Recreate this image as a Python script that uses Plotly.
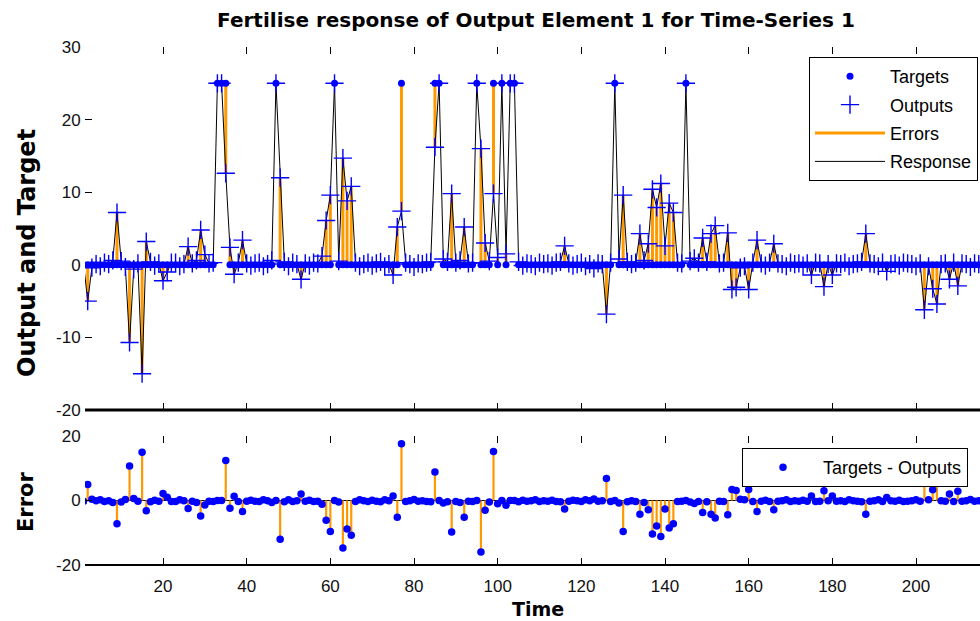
import plotly.graph_objects as go

# ---------------- data ----------------
TIME = list(range(1, 216))

OUTPUTS = [
    0.2, -5.0, -0.4, 0.1, -0.2, 0.3, 0.1, 0.6, 7.2, 0.5,
    -0.3, -10.7, -0.6, 0.2, -15.0, 3.2, 0.4, -0.1, 0.2, -2.2,
    -1.0, 0.3, 0.3, -0.2, 0.1, 2.5, 0.2, 0.6, 4.8, 1.4,
    0.2, 0.3, 25.0, 25.0, 12.6, 2.4, -1.3, 0.3, 3.4, 0.2,
    -0.1, 0.2, 0.3, -0.2, 0.1, 0.6, 25.0, 12.0, 0.4, -0.2,
    0.3, 0.1, -2.0, 0.2, -0.1, 0.3, 0.2, 1.2, 6.1, 9.6,
    25.0, 0.5, 14.7, 8.8, 10.8, 0.3, -0.2, 0.1, 0.3, -0.1,
    0.2, 0.4, -0.2, 0.1, -1.4, 5.2, 7.4, 0.3, 0.1, -0.3,
    0.2, 0.1, 0.3, 0.4, 16.2, 25.0, 0.8, 0.4, 9.8, 0.3,
    0.6, 5.2, 0.2, 0.3, 25.0, 16.0, 3.0, 0.5, 9.8, 1.0,
    25.0, 1.5, 25.0, 25.0, 0.4, -0.1, 0.2, 0.1, -0.2, 0.3,
    0.1, 0.2, -0.1, 0.3, 0.4, 2.6, 0.2, -0.1, 0.1, 0.3,
    -0.2, 0.1, -0.5, 0.2, 0.1, -6.8, 0.3, 25.0, 0.8, 9.6,
    0.4, 0.1, 0.3, 4.3, 0.6, 2.9, 10.4, 7.9, 11.2, 2.6,
    8.5, 7.2, 0.3, 0.2, 25.0, 0.5, 0.9, 0.3, 3.7, 0.4,
    4.3, 5.4, 0.2, 0.3, 4.4, -3.4, -3.1, -0.4, -0.2, -3.4,
    0.3, 3.4, 0.2, -0.1, 0.3, 2.9, 0.2, 0.1, -0.2, 0.3,
    0.1, 0.2, -0.1, 0.2, -1.4, 0.3, 0.2, -3.0, 0.1, -1.4,
    0.2, 0.1, 0.3, -0.2, 0.1, 0.2, 0.4, 4.3, 0.2, 0.1,
    -0.2, 0.3, -0.9, 0.1, 0.2, -0.1, 0.3, 0.2, 0.1, -0.2,
    0.2, -6.2, -0.2, -3.3, -5.4, 0.1, 0.2, -2.0, 0.3, -2.9,
    0.2, 0.1, -0.3, 0.2, 0.1,
]

TARGET_PEAK_TIMES = [33, 34, 35, 47, 61, 77, 85, 86, 95, 99, 101, 103, 104, 128, 145]
TARGET_PEAK_VALUE = 25.0

X_TICKS = [20, 40, 60, 80, 100, 120, 140, 160, 180, 200]
Y_TICKS_TOP = [-20, -10, 0, 10, 20, 30]
Y_TICKLABELS_TOP = ["-20", "-10", "0", "10", "20", "30"]
Y_TICKS_ERR = [-20, 0, 20]
Y_TICKLABELS_ERR = ["-20", "0", "20"]

TITLE = "Fertilise response of Output Element 1 for Time-Series 1"

# ------------- derived series -------------
targets = [TARGET_PEAK_VALUE if t in TARGET_PEAK_TIMES else 0.0 for t in TIME]
errors = [tg - o for tg, o in zip(targets, OUTPUTS)]

err_x, err_y = [], []
for t, tg, o in zip(TIME, targets, OUTPUTS):
    err_x += [t, t, None]
    err_y += [tg, o, None]

stem_x, stem_y = [], []
for t, e in zip(TIME, errors):
    stem_x += [t, t, None]
    stem_y += [0, e, None]

BLUE = "#0000FF"
ORANGE = "#FF9900"

fig = go.Figure()

# top subplot (legend order: Targets, Outputs, Errors, Response)
fig.add_trace(go.Scatter(x=TIME, y=targets, mode="markers", name="Targets",
                         marker=dict(symbol="circle", size=7, color=BLUE),
                         xaxis="x", yaxis="y", zorder=3, legend="legend",
                         legendgroup="a"))
fig.add_trace(go.Scatter(x=TIME, y=OUTPUTS, mode="markers", name="Outputs",
                         marker=dict(symbol="cross-thin", size=13, color=BLUE,
                                     line=dict(width=1.4, color=BLUE)),
                         xaxis="x", yaxis="y", zorder=4, legend="legend",
                         legendgroup="b"))
fig.add_trace(go.Scatter(x=err_x, y=err_y, mode="lines", name="Errors",
                         line=dict(color=ORANGE, width=3),
                         xaxis="x", yaxis="y", zorder=1, legend="legend",
                         legendgroup="c"))
fig.add_trace(go.Scatter(x=TIME, y=OUTPUTS, mode="lines", name="Response",
                         line=dict(color="black", width=1),
                         xaxis="x", yaxis="y", zorder=2, legend="legend",
                         legendgroup="d"))

# bottom subplot
fig.add_trace(go.Scatter(x=stem_x, y=stem_y, mode="lines", showlegend=False,
                         line=dict(color=ORANGE, width=2.2),
                         xaxis="x2", yaxis="y2"))
fig.add_trace(go.Scatter(x=TIME, y=errors, mode="markers", name="Targets - Outputs",
                         marker=dict(symbol="circle", size=7.5, color=BLUE),
                         xaxis="x2", yaxis="y2", legend="legend2"))

W, H = 980, 621
L, R, T, B = 85, 0, 47, 56
PH = H - T - B  # 518


def py(p):
    return (H - B - p) / PH


def px(p):
    return (p - L) / (W - L - R)


TICKFONT = dict(family="Liberation Sans", size=17, color="#111111")
axis_common = dict(showline=True, linecolor="black", linewidth=1, ticks="inside",
                   ticklen=7, tickwidth=1, tickcolor="black", showgrid=False,
                   zeroline=False, tickfont=TICKFONT)
XRANGE = [1.35, 215.3]

fig.update_layout(
    width=W, height=H,
    margin=dict(l=L, r=R, t=T, b=B),
    paper_bgcolor="white", plot_bgcolor="white",
    showlegend=True,
    title=dict(text="<b>" + TITLE + "</b>", x=536 / W, xanchor="center",
               xref="container", y=1 - 20 / H, yanchor="middle", yref="container",
               font=dict(family="DejaVu Sans", size=20, color="black")),
    xaxis=dict(axis_common, domain=[0, 1], anchor="y", range=XRANGE,
               tickvals=X_TICKS, showticklabels=False, mirror="ticks"),
    yaxis=dict(axis_common, domain=[py(410), 1], anchor="x", range=[-20, 30],
               tickvals=Y_TICKS_TOP, ticktext=Y_TICKLABELS_TOP),
    xaxis2=dict(axis_common, domain=[0, 1], anchor="y2", range=XRANGE,
                tickvals=X_TICKS, mirror="ticks", matches="x", ticklabelstandoff=6),
    yaxis2=dict(axis_common, domain=[0, py(436)], anchor="x2", range=[-20, 20],
                tickvals=Y_TICKS_ERR, ticktext=Y_TICKLABELS_ERR,
                zeroline=True, zerolinecolor="black", zerolinewidth=1),
    legend=dict(x=px(809), xanchor="left", y=py(57), yanchor="top",
                bordercolor="black", borderwidth=1, bgcolor="white",
                font=dict(family="Liberation Sans", size=18, color="black"),
                itemwidth=70, traceorder="grouped", tracegroupgap=2),
    legend2=dict(x=px(742), xanchor="left", y=py(448), yanchor="top",
                 bordercolor="black", borderwidth=1, bgcolor="white",
                 font=dict(family="Liberation Sans", size=18, color="black"),
                 itemwidth=70),
    annotations=[
        dict(text="<b>Output and Target</b>", xref="paper", yref="paper",
             x=px(27), y=py(253), textangle=-90, showarrow=False,
             xanchor="center", yanchor="middle",
             font=dict(family="DejaVu Sans", size=24, color="black")),
        dict(text="<b>Error</b>", xref="paper", yref="paper",
             x=px(26), y=py(502), textangle=-90, showarrow=False,
             xanchor="center", yanchor="middle",
             font=dict(family="DejaVu Sans", size=21, color="black")),
        dict(text="<b>Time</b>", xref="paper", yref="paper",
             x=px(538), y=py(609), showarrow=False,
             xanchor="center", yanchor="middle",
             font=dict(family="DejaVu Sans", size=19, color="black")),
    ],
    shapes=[
        dict(type="line", xref="x domain", yref="y domain", x0=0, x1=1, y0=0, y1=0,
             line=dict(color="black", width=3), layer="above"),
        dict(type="line", xref="x2 domain", yref="y2 domain", x0=0, x1=1, y0=0, y1=0,
             line=dict(color="black", width=2), layer="above"),
    ],
)

fig.write_html("out.html")
